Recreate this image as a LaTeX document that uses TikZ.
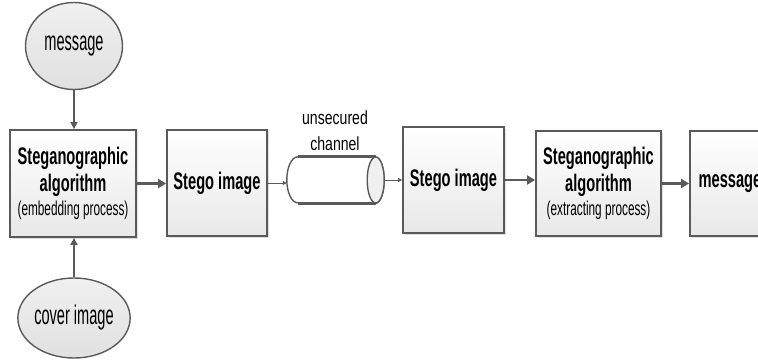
\documentclass[tikz,border=0pt]{standalone}
\usepackage{fontspec}
\setmainfont{Liberation Sans}
\newfontfamily\narA{Liberation Sans}[FakeStretch=0.61]
\newfontfamily\narS{Liberation Sans}[FakeStretch=0.59]
\newfontfamily\narB{Liberation Sans}[FakeStretch=0.54]
\newfontfamily\narC{Liberation Sans}[FakeStretch=0.74]
\usetikzlibrary{shapes.geometric,shadows,arrows.meta}
\definecolor{lc}{HTML}{5A5A5A}
\begin{document}
\begin{tikzpicture}[x=1pt,y=-1pt,
  box/.style={draw=lc, line width=1.8pt, rectangle, top color=white, bottom color=black!9,
    drop shadow={opacity=0.25,shadow xshift=1.5pt,shadow yshift=-1.5pt},
    inner sep=0pt, align=center, font=\narA\bfseries\fontsize{24}{27}\selectfont},
  oval/.style={draw=lc, line width=1.4pt, ellipse, top color=black!6, bottom color=black!12,
    inner sep=0pt, font=\narB\fontsize{27}{30}\selectfont},
  bigarrow/.style={draw=lc, line width=2.6pt, -{Triangle[length=8pt,width=9pt]}},
  midarrow/.style={draw=lc, line width=1.8pt, -{Triangle[length=7pt,width=7pt]}},
  thinarrow/.style={draw=lc, line width=0.8pt, -{Triangle[length=4pt,width=4pt]}}
]
\clip (0,0) rectangle (758,359);
\node[oval, minimum width=97pt, minimum height=87pt] (msg) at (74,46) {message};
\node[oval, minimum width=97pt, minimum height=80pt] (cov) at (74,318) {cover image};
\node[box, minimum width=126pt, minimum height=107pt] (alg1) at (73,183.5)
  {Steganographic\\algorithm\\[-3pt]{\narS\mdseries\fontsize{20}{21}\selectfont (embedding process)}};
\node[box, minimum width=100pt, minimum height=106pt] (st1) at (217,183) {Stego image};
% channel (cylinder)
\node[rectangle, inner sep=0pt, minimum width=97pt, minimum height=46pt] (ch) at (335.5,180) {};
\filldraw[draw=lc, fill=white, line width=1.4pt]
  ([xshift=11pt]ch.north west) arc[start angle=90, end angle=270, x radius=11pt, y radius=23pt]
  -- ([xshift=-8.5pt]ch.south east) arc[start angle=-90, end angle=90, x radius=8.5pt, y radius=23pt]
  -- cycle;
\filldraw[draw=lc, fill=black!6, line width=1.4pt] ([xshift=-8.5pt]ch.east) ellipse[x radius=8.5pt, y radius=23pt];
\draw[lc, line width=3pt] ([xshift=11pt]ch.north west) -- ([xshift=-8.5pt]ch.north east);
\draw[lc, line width=3pt] ([xshift=11pt]ch.south west) -- ([xshift=-8.5pt]ch.south east);
\node[font=\narC\fontsize{19}{26}\selectfont, align=center] (lbl) at (335,131) {unsecured\\channel};
\node[box, minimum width=101pt, minimum height=106pt] (st2) at (453.5,180) {Stego image};
\node[box, minimum width=125pt, minimum height=105pt] (alg2) at (598.5,183.5)
  {Steganographic\\algorithm\\[-3pt]{\narS\mdseries\fontsize{20}{21}\selectfont (extracting process)}};
\node[box, minimum width=80pt, minimum height=105pt] (out) at (730,183.5) {message};
\draw[midarrow] (msg.south) -- (msg.south |- alg1.north);
\draw[midarrow] (cov.north) -- (cov.north |- alg1.south);
\draw[bigarrow] (alg1.east) -- (alg1.east -| st1.west);
\draw[thinarrow] (st1.east) -- (st1.east -| ch.west);
\draw[thinarrow] (ch.east) -- (ch.east -| st2.west);
\draw[bigarrow] (st2.east) -- (st2.east -| alg2.west);
\draw[bigarrow] (alg2.east) -- (alg2.east -| out.west);
\end{tikzpicture}
\end{document}
